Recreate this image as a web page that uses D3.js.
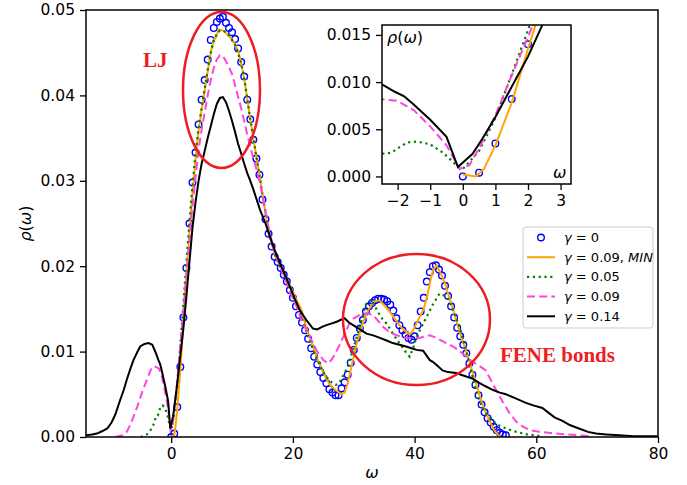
<!DOCTYPE html>
<html>
<head>
<meta charset="utf-8">
<script src="https://cdn.jsdelivr.net/npm/d3@7"></script>
<style>
  body { margin: 0; background: #fff; }
  text { font-family: "DejaVu Sans", sans-serif; }
</style>
</head>
<body>
<div id="chart"></div>
<script>

// gamma = 0 (circles), sampled every 0.5 from 0 to 55
var circleStart = 0, circleStep = 0.5;
var circleRho = [
  0.0000, 0.0004, 0.0035, 0.0082, 0.0140, 0.0198, 0.0250, 0.0298, 0.0333, 0.0366,
  0.0395, 0.0418, 0.0442, 0.0465, 0.0479, 0.0486, 0.0490, 0.0492, 0.0485, 0.0479,
  0.0474, 0.0466, 0.0455, 0.0439, 0.0422, 0.0395, 0.0372, 0.0348, 0.0326, 0.0307,
  0.0278, 0.0255, 0.0238, 0.0223, 0.0211, 0.0205, 0.0198, 0.0190, 0.0182, 0.0172,
  0.0163, 0.0153, 0.0143, 0.0134, 0.0125, 0.0115, 0.0104, 0.0094, 0.0085, 0.0076,
  0.0069, 0.0063, 0.0056, 0.0052, 0.0049, 0.0049, 0.0057, 0.0064, 0.0073, 0.0087,
  0.0102, 0.0116, 0.0127, 0.0137, 0.0147, 0.0153, 0.0157, 0.0160, 0.0162, 0.0162,
  0.0161, 0.0159, 0.0155, 0.0148, 0.0139, 0.0131, 0.0125, 0.0120, 0.0116, 0.0114,
  0.0118, 0.0131, 0.0147, 0.0163, 0.0182, 0.0193, 0.0200, 0.0201, 0.0196, 0.0189,
  0.0177, 0.0165, 0.0153, 0.0140, 0.0128, 0.0118, 0.0108, 0.0098, 0.0086, 0.0073,
  0.0061, 0.0049, 0.0038, 0.0029, 0.0022, 0.0017, 0.0012, 0.0008, 0.0005, 0.0003,
  0.0002
];

// gamma = 0.09, MIN
var minOmega = [0, 0.4, 0.65, 1, 1.5, 2, 2.5, 3, 3.5, 4, 4.5, 5, 5.5, 6, 6.5, 7, 7.3, 7.8, 8.5, 9, 9.5, 10,
  10.5, 11, 11.5, 12, 12.5, 13, 13.5, 14, 14.5, 15, 15.5, 16, 16.5, 17, 17.5, 18, 18.5, 19, 19.5, 20,
  20.5, 21, 21.5, 22, 22.5, 23, 24, 25, 26, 27, 28, 28.5, 29, 29.5, 30, 30.5, 31, 31.5, 32, 32.5, 33,
  33.5, 34.2, 34.8, 35.5, 36, 36.5, 37, 37.5, 38, 38.5, 39.2, 39.7, 40.3, 41, 41.5, 42, 42.5, 43, 43.6,
  44.2, 45, 45.5, 46, 46.5, 47, 47.5, 48, 48.5, 49, 49.5, 50, 50.5, 51, 51.5, 52, 52.5, 53, 53.5, 54.2];
var minRho = [0.0002, 0.0000, 0.0008, 0.0033, 0.0078, 0.0135, 0.0190, 0.0240, 0.0285, 0.0325, 0.0358,
  0.0383, 0.0405, 0.0428, 0.0450, 0.0465, 0.0467, 0.0477, 0.0476, 0.0473, 0.0470, 0.0465,
  0.0460, 0.0452, 0.0438, 0.0420, 0.0396, 0.0372, 0.0349, 0.0328, 0.0308, 0.0285, 0.0262, 0.0243,
  0.0227, 0.0215, 0.0206, 0.0200, 0.0192, 0.0185, 0.0177, 0.0170, 0.0162, 0.0155, 0.0147, 0.0133,
  0.0122, 0.0112, 0.0092, 0.0075, 0.0062, 0.0055, 0.0050, 0.0052, 0.0063, 0.0078, 0.0095, 0.0110,
  0.0122, 0.0133, 0.0143, 0.0150, 0.0155, 0.0159, 0.0160, 0.0156, 0.0150, 0.0146, 0.0141, 0.0136,
  0.0131, 0.0127, 0.0124, 0.0120, 0.0124, 0.0133, 0.0143, 0.0150, 0.0163, 0.0180, 0.0195, 0.0201,
  0.0193, 0.0180, 0.0168, 0.0157, 0.0145, 0.0133, 0.0121, 0.0110, 0.0100, 0.0089, 0.0077, 0.0065,
  0.0053, 0.0042, 0.0032, 0.0024, 0.0016, 0.0009, 0.0004, 0.0000];

// gamma = 0.05
var g05Omega = [-5, -4, -3.4, -2.8, -2.5, -2.2, -1.9, -1.7, -1.4, -1, -0.6, -0.2, 0, 0.5, 1, 1.5, 2, 2.5,
  3, 3.5, 4, 4.5, 5, 5.5, 6, 6.5, 7, 7.5, 8, 8.5, 9, 9.5, 10, 10.5, 11, 11.5, 12, 12.5, 13, 13.5, 14,
  14.5, 15, 16, 17, 18, 19, 20, 21, 22, 23, 24, 25, 26, 27, 27.5, 28, 29, 30, 31, 32, 32.9, 33.7, 34.5,
  35.5, 36.5, 37.5, 38.5, 39.2, 39.8, 40.3, 41, 42, 43, 44.1, 45, 45.7, 46.5, 47.4, 48.2, 49, 50.1, 51,
  51.7, 53, 54, 55, 56.7, 58.5, 60, 61];
var g05Rho = [0.0000, 0.0003, 0.0008, 0.0016, 0.0024, 0.0025, 0.0032, 0.0036, 0.0037, 0.0034, 0.0025,
  0.0012, 0.0008, 0.0027, 0.0062, 0.0108, 0.0155, 0.0205, 0.0252, 0.0294, 0.0332, 0.0362, 0.0385,
  0.0408, 0.0430, 0.0450, 0.0465, 0.0472, 0.0476, 0.0476, 0.0474, 0.0470, 0.0465, 0.0459, 0.0450,
  0.0437, 0.0420, 0.0396, 0.0372, 0.0350, 0.0328, 0.0307, 0.0283, 0.0243, 0.0214, 0.0198, 0.0183,
  0.0165, 0.0148, 0.0128, 0.0108, 0.0090, 0.0076, 0.0066, 0.0061, 0.0062, 0.0068, 0.0082, 0.0105,
  0.0130, 0.0155, 0.0161, 0.0150, 0.0140, 0.0132, 0.0120, 0.0110, 0.0100, 0.0094, 0.0105, 0.0117,
  0.0127, 0.0141, 0.0155, 0.0168, 0.0165, 0.0160, 0.0145, 0.0129, 0.0108, 0.0086, 0.0053, 0.0037,
  0.0028, 0.0018, 0.0013, 0.0010, 0.0006, 0.0003, 0.0002, 0.0000];

// gamma = 0.09
var g09Omega = [-9.2, -8, -7.3, -6.5, -5.6, -4.8, -4, -3.4, -2.9, -2.5, -2, -1.5, -1, -0.5, -0.1, 0.2,
  0.5, 1, 1.5, 2, 2.5, 3, 3.5, 4, 4.5, 5, 5.5, 6, 6.5, 7, 7.5, 8, 8.5, 9, 9.5, 10, 10.5, 11, 11.5, 12,
  12.5, 13, 13.5, 14, 14.5, 15, 16, 17, 18, 19, 20, 20.6, 21.5, 22.8, 24, 25, 25.8, 26.5, 27.7, 28.5,
  29.3, 30, 31, 32, 33.2, 34, 34.8, 35.5, 36.4, 37.5, 38.6, 39.5, 40.8, 41.8, 42.5, 43.3, 44.1, 45.2,
  46.3, 47.5, 48.5, 49.5, 50.5, 51.7, 52.5, 53.4, 54.5, 55.6, 56.7, 57.8, 59, 60.5, 62, 63.2, 65, 67, 69];
var g09Rho = [0.0000, 0.0002, 0.0006, 0.0018, 0.0035, 0.0052, 0.0067, 0.0078, 0.0083, 0.0082, 0.0080,
  0.0070, 0.0053, 0.0033, 0.0008, 0.0012, 0.0030, 0.0065, 0.0107, 0.0148, 0.0190, 0.0230, 0.0270,
  0.0305, 0.0336, 0.0360, 0.0380, 0.0400, 0.0418, 0.0432, 0.0442, 0.0447, 0.0446, 0.0440, 0.0433,
  0.0425, 0.0412, 0.0398, 0.0385, 0.0370, 0.0354, 0.0340, 0.0326, 0.0314, 0.0300, 0.0282, 0.0245,
  0.0215, 0.0198, 0.0180, 0.0162, 0.0153, 0.0135, 0.0117, 0.0100, 0.0090, 0.0086, 0.0092, 0.0108,
  0.0121, 0.0133, 0.0139, 0.0143, 0.0145, 0.0143, 0.0136, 0.0129, 0.0125, 0.0121, 0.0118, 0.0116,
  0.0116, 0.0116, 0.0118, 0.0119, 0.0117, 0.0114, 0.0110, 0.0106, 0.0100, 0.0094, 0.0088, 0.0084,
  0.0078, 0.0067, 0.0055, 0.0041, 0.0028, 0.0018, 0.0012, 0.0008, 0.0006, 0.0005, 0.0004, 0.0003,
  0.0002, 0.0001];

// gamma = 0.14
var g14Omega = [-14, -13, -12.2, -11.3, -10.5, -9.8, -9.2, -8.4, -7.8, -7.3, -6.7, -6.2, -5.6, -5.1,
  -4.4, -3.7, -3.1, -2.5, -2.1, -1.8, -1.5, -1, -0.5, -0.15, 0.3, 0.6, 1, 1.5, 2, 2.5, 3, 3.5, 4, 4.5,
  5, 5.5, 6, 6.5, 7, 7.5, 8, 8.5, 9, 9.5, 10, 10.5, 11, 11.5, 12, 12.5, 13, 13.5, 14, 14.6, 15.5, 16.2,
  17, 17.9, 18.7, 19.5, 20.3, 21.1, 22.2, 23.3, 24, 24.8, 25.5, 26.4, 27.2, 27.8, 28.5, 29.2, 29.9, 31,
  32.1, 33.2, 34.3, 35.4, 36.4, 37.5, 38.6, 39.5, 40.3, 41.4, 42, 42.5, 43, 43.8, 44.6, 45.5, 46.8, 48,
  49.6, 50.5, 51.5, 52.9, 54, 55, 56.7, 58.3, 59.5, 61, 62.1, 63, 64.3, 65.5, 67, 68.5, 69.8, 71.5,
  73.6, 76, 80];
var g14Rho = [0.0002, 0.0003, 0.0004, 0.0007, 0.0010, 0.0017, 0.0026, 0.0043, 0.0055, 0.0067, 0.0080,
  0.0090, 0.0099, 0.0106, 0.0109, 0.0110, 0.0108, 0.0098, 0.0090, 0.0085, 0.0076, 0.0060, 0.0042,
  0.0010, 0.0024, 0.0040, 0.0063, 0.0095, 0.0127, 0.0165, 0.0205, 0.0245, 0.0275, 0.0300, 0.0320,
  0.0335, 0.0350, 0.0364, 0.0378, 0.0390, 0.0397, 0.0398, 0.0392, 0.0382, 0.0370, 0.0357, 0.0343,
  0.0332, 0.0320, 0.0309, 0.0300, 0.0290, 0.0279, 0.0266, 0.0250, 0.0235, 0.0219, 0.0203, 0.0190,
  0.0176, 0.0162, 0.0149, 0.0137, 0.0127, 0.0126, 0.0129, 0.0131, 0.0133, 0.0135, 0.0137, 0.0139,
  0.0134, 0.0131, 0.0126, 0.0121, 0.0119, 0.0116, 0.0113, 0.0110, 0.0108, 0.0106, 0.0104, 0.0102,
  0.0101, 0.0095, 0.0090, 0.0088, 0.0083, 0.0078, 0.0076, 0.0075, 0.0072, 0.0068, 0.0064, 0.0060,
  0.0055, 0.0052, 0.0050, 0.0045, 0.0040, 0.0037, 0.0034, 0.0028, 0.0023, 0.0019, 0.0014, 0.0010,
  0.0006, 0.0004, 0.0003, 0.0002, 0.0001, 0.0001];

var xTicks = [0, 20, 40, 60, 80];
var yTicks = [0, 0.01, 0.02, 0.03, 0.04, 0.05];
var insetXTicks = [-2, -1, 0, 1, 2, 3];
var insetYTicks = [0, 0.005, 0.010, 0.015];
var legendLabels = ["0", "0.09, ", "0.05", "0.09", "0.14"];

var red = "#ee1d23";
var W = 687, H = 485;

var svg = d3.select("#chart").append("svg")
  .attr("width", W)
  .attr("height", H);

var defs = svg.append("defs");

function toPoints(om, rho) {
  return om.map(function(w, i) { return [w, rho[i]]; });
}
var circlePts = circleRho.map(function(r, i) { return [circleStart + i * circleStep, r]; });

var series = [
  {pts: toPoints(minOmega, minRho), color: "#ffa500", dash: null, width: 2},
  {pts: toPoints(g05Omega, g05Rho), color: "#008000", dash: "2.2,3.6", width: 2.2},
  {pts: toPoints(g09Omega, g09Rho), color: "#ff44dd", dash: "8,4.2", width: 2},
  {pts: toPoints(g14Omega, g14Rho), color: "#000000", dash: null, width: 2}
];

// draws all curves into a panel with given scales
function drawPanel(g, x, y, clipId, r) {
  var line = d3.line()
    .x(function(d) { return x(d[0]); })
    .y(function(d) { return y(d[1]); });

  var body = g.append("g").attr("clip-path", "url(#" + clipId + ")");

  body.selectAll("circle")
    .data(circlePts)
    .enter().append("circle")
      .attr("cx", function(d) { return x(d[0]); })
      .attr("cy", function(d) { return y(d[1]); })
      .attr("r", r)
      .attr("fill", "none")
      .attr("stroke", "#0000ff")
      .attr("stroke-width", 1.4);

  series.forEach(function(s) {
    body.append("path")
      .attr("d", line(s.pts))
      .attr("fill", "none")
      .attr("stroke", s.color)
      .attr("stroke-width", s.width)
      .attr("stroke-dasharray", s.dash);
  });
}

function styleAxis(a) {
  a.selectAll(".domain").remove();
  a.selectAll(".tick line").attr("stroke", "#000").attr("stroke-width", 1.3);
  a.selectAll(".tick text").attr("fill", "#000").style("font-size", "15.5px")
    .style("font-family", "DejaVu Sans, sans-serif");
}

// ---- main axes ----
var m = {left: 86, right: 658, top: 10, bottom: 437};
var x = d3.scaleLinear().domain([-14, 80]).range([m.left, m.right]);
var y = d3.scaleLinear().domain([0, 0.05]).range([m.bottom, m.top]);

defs.append("clipPath").attr("id", "clipMain")
  .append("rect").attr("x", m.left).attr("y", m.top)
  .attr("width", m.right - m.left).attr("height", m.bottom - m.top);

var main = svg.append("g");
drawPanel(main, x, y, "clipMain", 3.3);

var xAx = main.append("g").attr("transform", "translate(0," + m.bottom + ")")
  .call(d3.axisBottom(x).tickValues(xTicks).tickSize(6).tickPadding(5).tickFormat(d3.format("d")));
styleAxis(xAx);
var yAx = main.append("g").attr("transform", "translate(" + m.left + ",0)")
  .call(d3.axisLeft(y).tickValues(yTicks).tickSize(6).tickPadding(5).tickFormat(d3.format(".2f")));
styleAxis(yAx);

main.append("rect")
  .attr("x", m.left).attr("y", m.top)
  .attr("width", m.right - m.left).attr("height", m.bottom - m.top)
  .attr("fill", "none").attr("stroke", "#000").attr("stroke-width", 1.5);

main.append("text")
  .attr("x", (m.left + m.right) / 2).attr("y", 478)
  .attr("text-anchor", "middle")
  .style("font-size", "16px").style("font-style", "italic")
  .text("ω");

main.append("text")
  .attr("transform", "translate(31," + ((m.top + m.bottom) / 2) + ") rotate(-90)")
  .attr("text-anchor", "middle")
  .style("font-size", "16px")
  .html('<tspan font-style="italic">ρ</tspan>(<tspan font-style="italic">ω</tspan>)');

// ---- annotations ----
main.append("ellipse")
  .attr("cx", 221.5).attr("cy", 90).attr("rx", 38.5).attr("ry", 78)
  .attr("fill", "none").attr("stroke", red).attr("stroke-width", 2.5);
main.append("ellipse")
  .attr("cx", 416.5).attr("cy", 319.5).attr("rx", 73.5).attr("ry", 65.5)
  .attr("fill", "none").attr("stroke", red).attr("stroke-width", 2.5);

main.append("text")
  .attr("x", 143).attr("y", 67)
  .style("font-family", "Liberation Serif, serif").style("font-weight", "bold")
  .style("font-size", "21px").attr("fill", red)
  .text("LJ");
main.append("text")
  .attr("x", 500).attr("y", 362)
  .style("font-family", "Liberation Serif, serif").style("font-weight", "bold")
  .style("font-size", "21px").attr("fill", red)
  .text("FENE bonds");

// ---- legend ----
var leg = main.append("g");
leg.append("rect")
  .attr("x", 523).attr("y", 227).attr("width", 130).attr("height", 101).attr("rx", 3)
  .attr("fill", "#fff").attr("fill-opacity", 0.8)
  .attr("stroke", "#cccccc").attr("stroke-width", 1);

legendLabels.forEach(function(lab, i) {
  var ly = 237.5 + i * 19.7;
  if (i === 0) {
    leg.append("circle").attr("cx", 541).attr("cy", ly).attr("r", 3.3)
      .attr("fill", "none").attr("stroke", "#0000ff").attr("stroke-width", 1.4);
  } else {
    var s = series[i - 1];
    leg.append("line")
      .attr("x1", 527).attr("x2", 555).attr("y1", ly).attr("y2", ly)
      .attr("stroke", s.color).attr("stroke-width", s.width)
      .attr("stroke-dasharray", s.dash);
  }
  var t = leg.append("text")
    .attr("x", 564).attr("y", ly + 4.5)
    .style("font-size", "13px");
  t.append("tspan").attr("font-style", "italic").text("γ");
  t.append("tspan").text(" = " + lab);
  if (i === 1) t.append("tspan").attr("font-style", "italic").text("MIN");
});

// ---- inset ----
var n = {left: 382, right: 571, top: 25, bottom: 184};
var xi = d3.scaleLinear().domain([-2.48, 3.32]).range([n.left, n.right]);
var yi = d3.scaleLinear().domain([-0.0008, 0.01605]).range([n.bottom, n.top]);

defs.append("clipPath").attr("id", "clipInset")
  .append("rect").attr("x", n.left).attr("y", n.top)
  .attr("width", n.right - n.left).attr("height", n.bottom - n.top);

var inset = svg.append("g");
inset.append("rect")
  .attr("x", n.left).attr("y", n.top)
  .attr("width", n.right - n.left).attr("height", n.bottom - n.top)
  .attr("fill", "#fff");
drawPanel(inset, xi, yi, "clipInset", 3.3);

var xiAx = inset.append("g").attr("transform", "translate(0," + n.bottom + ")")
  .call(d3.axisBottom(xi).tickValues(insetXTicks).tickSize(6).tickPadding(5)
    .tickFormat(function(d) { return d < 0 ? "\u2212" + Math.abs(d) : d; }));
styleAxis(xiAx);
var yiAx = inset.append("g").attr("transform", "translate(" + n.left + ",0)")
  .call(d3.axisLeft(yi).tickValues(insetYTicks).tickSize(6).tickPadding(5).tickFormat(d3.format(".3f")));
styleAxis(yiAx);

inset.append("rect")
  .attr("x", n.left).attr("y", n.top)
  .attr("width", n.right - n.left).attr("height", n.bottom - n.top)
  .attr("fill", "none").attr("stroke", "#000").attr("stroke-width", 1.5);

inset.append("text")
  .attr("x", 387).attr("y", 43)
  .style("font-size", "16px")
  .html('<tspan font-style="italic">ρ</tspan>(<tspan font-style="italic">ω</tspan>)');
inset.append("text")
  .attr("x", 553).attr("y", 178)
  .style("font-size", "16px").style("font-style", "italic")
  .text("ω");

</script>
</body>
</html>
